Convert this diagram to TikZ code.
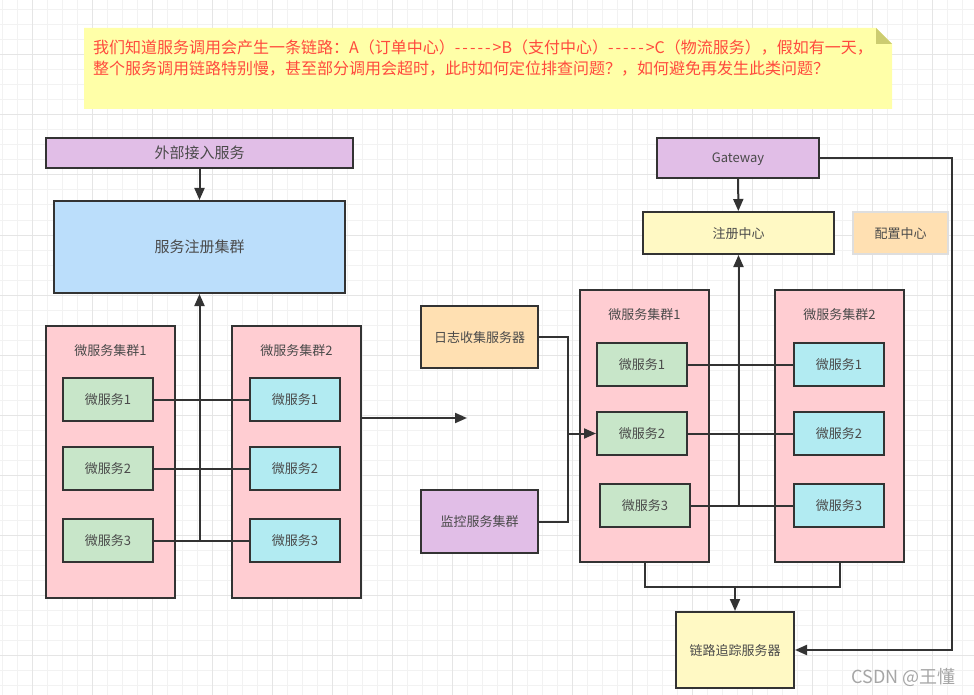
\documentclass[tikz,border=0pt]{standalone}
\usepackage{fontspec}
\setmainfont{Noto Sans CJK SC}
\usetikzlibrary{arrows.meta}
\definecolor{ink}{HTML}{333333}
\definecolor{txt}{HTML}{4A4A4A}
\definecolor{notey}{HTML}{FFFFA8}
\definecolor{notef}{HTML}{CCCC70}
\definecolor{notet}{HTML}{FF4A3D}
\definecolor{purp}{HTML}{E1BEE7}
\definecolor{sky}{HTML}{BBDEFB}
\definecolor{pink}{HTML}{FFCDD2}
\definecolor{grn}{HTML}{C8E6C9}
\definecolor{cyn}{HTML}{B2EBF2}
\definecolor{orng}{HTML}{FFE0B2}
\definecolor{lemon}{HTML}{FFF9C4}
\newcommand{\dasharrow}{-\kern2pt-\kern2pt-\kern2pt-\kern2pt-\kern2pt>}
\begin{document}
\begin{tikzpicture}[
    x=1pt, y=-1pt,
    box/.style={draw=ink, line width=2pt, inner sep=0pt, text=txt, font=\fontsize{13}{16}\selectfont, text height=11.5pt, text depth=1.5pt},
    svc/.style={box, minimum width=90pt, minimum height=43pt},
    cluster/.style={box, fill=pink, minimum width=129pt},
    title/.style={text=txt, inner sep=0pt, font=\fontsize{13}{16}\selectfont},
    line/.style={draw=ink, line width=2pt},
    arrow/.style={line, -{Triangle[length=12pt,width=10pt]}}
    ]
    \useasboundingbox (0,0) rectangle (974,695);
    \fill[white] (0,0) rectangle (974,695);

    % grid
    \foreach \x in {2,17,...,974} \draw[line width=1pt, black!5] (\x,0) -- (\x,695);
    \foreach \y in {10,25,...,695} \draw[line width=1pt, black!5] (0,\y) -- (974,\y);
    \foreach \x in {32,92,...,974} \draw[line width=1pt, black!10] (\x,0) -- (\x,695);
    \foreach \y in {55,115,...,695} \draw[line width=1pt, black!10] (0,\y) -- (974,\y);

    % note
    \fill[notey] (84,28) -- (876,28) -- (892,44) -- (892,109) -- (84,109) -- cycle;
    \fill[notef] (876,28) -- (892,44) -- (876,44) -- cycle;
    \node[anchor=north west, inner sep=0pt, text=notet, align=left, font=\fontsize{16}{20.5}\selectfont] (note) at (93,40)
        {我们知道服务调用会产生一条链路：A（订单中心）\dasharrow{}B（支付中心）\dasharrow{}C（物流服务），假如有一天，\\
         整个服务调用链路特别慢，甚至部分调用会超时，此时如何定位排查问题？，如何避免再发生此类问题？};

    % left side
    \node[box, fill=purp, minimum width=307pt, minimum height=30pt, font=\fontsize{15}{18}\selectfont, text height=13pt, text depth=2pt] (ext) at (199.5,153) {外部接入服务};
    \node[box, fill=sky, minimum width=291pt, minimum height=92pt, font=\fontsize{15}{18}\selectfont, text height=13pt, text depth=2pt] (reg) at (199.5,247) {服务注册集群};
    \node[cluster, minimum height=272pt] (lc1) at (110.5,462) {};
    \node[cluster, minimum height=272pt] (lc2) at (296.5,462) {};
    \node[title] (lt1) at (110.5,351) {微服务集群1};
    \node[title] (lt2) at (296.5,351) {微服务集群2};
    \node[svc, fill=grn] (la1) at (108,399.5) {微服务1};
    \node[svc, fill=grn] (la2) at (108,468.5) {微服务2};
    \node[svc, fill=grn] (la3) at (108,540.5) {微服务3};
    \node[svc, fill=cyn] (lb1) at (295,399.5) {微服务1};
    \node[svc, fill=cyn] (lb2) at (295,468.5) {微服务2};
    \node[svc, fill=cyn] (lb3) at (295,540.5) {微服务3};

    \coordinate (ljoin) at (199.5,540.5);
    \coordinate (lout) at (467,418);
    \draw[arrow] (ext) -- (reg);
    \draw[line] (la1) -- (lb1);
    \draw[line] (la2) -- (lb2);
    \draw[line] (la3) -- (lb3);
    \draw[arrow] (ljoin) -- (reg);
    \draw[arrow] (lc2.east |- lout) -- (lout);

    % right side
    \node[box, fill=orng, minimum width=117pt, minimum height=62pt] (log) at (479.5,337) {日志收集服务器};
    \node[box, fill=purp, minimum width=117pt, minimum height=63pt] (mon) at (479.5,521.5) {监控服务集群};
    \node[box, fill=purp, minimum width=162pt, minimum height=40pt] (gw) at (738,158) {Gateway};
    \node[box, fill=lemon, minimum width=191pt, minimum height=42pt] (rc) at (738.5,233) {注册中心};
    \node[box, draw=black!13, fill=orng, minimum width=95pt, minimum height=42pt] (cfg) at (900.5,233) {配置中心};
    \node[cluster, minimum height=272pt] (rc1) at (644.5,426) {};
    \node[cluster, minimum height=272pt] (rc2) at (839.5,426) {};
    \node[title] (rt1) at (644.5,315) {微服务集群1};
    \node[title] (rt2) at (839.5,315) {微服务集群2};
    \node[svc, fill=grn] (ra1) at (642,364.5) {微服务1};
    \node[svc, fill=grn] (ra2) at (642,433.5) {微服务2};
    \node[svc, fill=grn] (ra3) at (645,505.5) {微服务3};
    \node[svc, fill=cyn] (rb1) at (839,364.5) {微服务1};
    \node[svc, fill=cyn] (rb2) at (839,433.5) {微服务2};
    \node[svc, fill=cyn] (rb3) at (839,505.5) {微服务3};
    \node[box, fill=lemon, minimum width=118pt, minimum height=76pt] (trace) at (735,650) {链路追踪服务器};

    \coordinate (rjoin) at (738.5,505.5);
    \coordinate (inbus) at (568,433.5);
    \coordinate (tjoin) at (735,587);
    \coordinate (gwc) at (952,158);
    \draw[arrow] (gw) -- (rc);
    \draw[line] (ra1) -- (rb1);
    \draw[line] (ra2) -- (rb2);
    \draw[line] (ra3) -- (rb3);
    \draw[arrow] (rjoin) -- (rc);
    \draw[line] (log) -| (inbus);
    \draw[line] (mon) -| (inbus);
    \draw[arrow] (inbus) -- (ra2);
    \draw[line] (rc1) |- (tjoin);
    \draw[line] (rc2) |- (tjoin);
    \draw[arrow] (tjoin) -- (trace);
    \draw[arrow] (gw) -- (gwc) |- (trace);

    % watermark
    \node[inner sep=0pt, text=black!35, font=\fontsize{18}{20}\selectfont] (wm) at (903.5,677) {CSDN @王懂};
\end{tikzpicture}
\end{document}
